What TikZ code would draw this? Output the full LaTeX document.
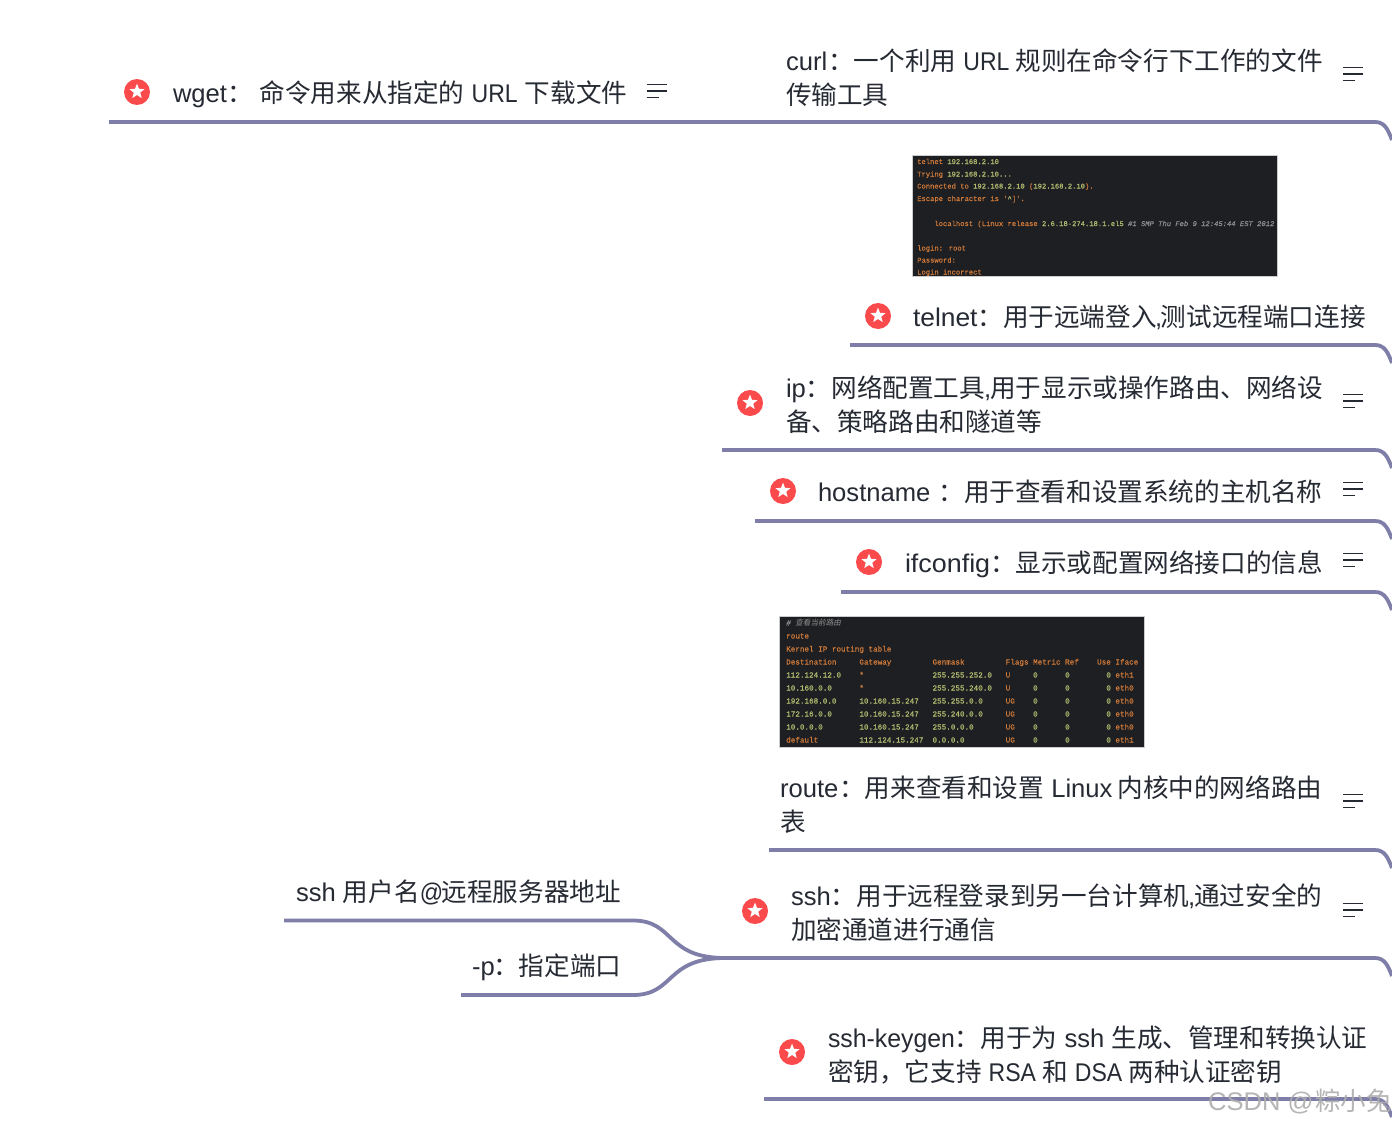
\documentclass[tikz,border=0pt]{standalone}
\usepackage{fontspec}
\setmainfont{Liberation Sans}
\newfontfamily\cjkfam{Noto Sans CJK SC}
\newfontfamily\cjkslant[FakeSlant=0.2]{Noto Sans CJK SC}
\newfontfamily\monofam[FakeBold=0.25]{Liberation Mono}
\newfontfamily\narfam[FakeStretch=0.9]{Liberation Sans}
\newfontfamily\midfam[FakeStretch=0.97]{Liberation Sans}
\newfontfamily\widefam[FakeStretch=1.05]{Liberation Sans}
\newfontfamily\wideofam[FakeStretch=1.03]{Liberation Sans}
\usetikzlibrary{shapes.geometric}
\definecolor{branch}{HTML}{7E7EA8}
\definecolor{inkc}{HTML}{262A33}
\definecolor{badge}{HTML}{FB4A4C}
\definecolor{termbg}{HTML}{1E1F22}
\definecolor{termor}{HTML}{D07A3A}
\definecolor{termgn}{HTML}{B2BB70}
\definecolor{termgy}{HTML}{8C8E8E}
\newcommand\zh[1]{{\cjkfam #1}}
\newcommand\nar[1]{{\narfam #1}}
\newcommand\Gn[1]{\textcolor{termgn}{#1}}
\newcommand\Gy[1]{\textcolor{termgy}{#1}}
\newcommand\Sk[1]{\hskip\dimexpr#1\fontcharwd\font`0\relax}
\tikzset{
  branchline/.style={draw=branch,line width=3.8pt,line cap=butt},
  maintext/.style={anchor=base west,inner sep=0pt,outer sep=0pt,text=inkc,align=left,font=\fontsize{25.6}{33.5}\selectfont},
  starbadge/.style={circle,fill=badge,minimum size=26pt,inner sep=0pt,
    path picture={\node[star,star points=5,star point ratio=2.35,fill=white,minimum size=16pt,inner sep=0pt] at ([yshift=0.4pt]path picture bounding box.center) {};}},
  termbox/.style={fill=termbg,draw=black!20,line width=0.8pt},
  telnetline/.style={anchor=base west,inner sep=0pt,text=termor,font=\monofam\fontsize{7.17}{9}\selectfont},
  routeline/.style={anchor=base west,inner sep=0pt,text=termor,font=\monofam\fontsize{7.62}{9}\selectfont},
  wmtext/.style={anchor=base west,inner sep=0pt,text=black!32,opacity=0.9,font=\fontsize{25.5}{30}\selectfont},
  pics/noteicon/.style={code={
    \draw[draw=inkc,line width=1.8pt] (-10,-6.5) -- (10,-6.5);
    \draw[draw=inkc,line width=1.8pt] (-10,0) -- (10,0);
    \draw[draw=inkc,line width=1.8pt] (-10,6.5) -- (2,6.5);
  }}
}
\begin{document}
\begin{tikzpicture}[x=1pt,y=-1pt]
\useasboundingbox (0,0) rectangle (1392,1124);
\fill[white] (0,0) rectangle (1392,1124);

% branch anchors
\coordinate (wgetL) at (109,122);
\coordinate (curlL) at (680,122);
\coordinate (curlF) at (1375,122);
\coordinate (curlE) at (1392,140);
\coordinate (telL) at (850,345);
\coordinate (telF) at (1375,345);
\coordinate (telE) at (1392,363);
\coordinate (ipL) at (722,450);
\coordinate (ipF) at (1375,450);
\coordinate (ipE) at (1392,468);
\coordinate (hostL) at (755,521);
\coordinate (hostF) at (1375,521);
\coordinate (hostE) at (1392,539);
\coordinate (ifL) at (841,592);
\coordinate (ifF) at (1375,592);
\coordinate (ifE) at (1392,610);
\coordinate (routeL) at (769,850);
\coordinate (routeF) at (1375,850);
\coordinate (routeE) at (1392,868);
\coordinate (sshL) at (725,958);
\coordinate (sshF) at (1375,958);
\coordinate (sshE) at (1392,976);
\coordinate (keyL) at (764,1099);
\coordinate (keyF) at (1375,1099);
\coordinate (keyE) at (1392,1117);
\coordinate (userL) at (284,920.5);
\coordinate (userF) at (633,920.5);
\coordinate (portL) at (461,995);
\coordinate (portF) at (633,995);

\newcommand\branch[3]{\draw[branchline] (#1) -- (#2) .. controls ++(10,0) and ++(-4,-10) .. (#3);}
\draw[branchline] (wgetL) -- (curlL);
\branch{curlL}{curlF}{curlE}
\branch{telL}{telF}{telE}
\branch{ipL}{ipF}{ipE}
\branch{hostL}{hostF}{hostE}
\branch{ifL}{ifF}{ifE}
\branch{routeL}{routeF}{routeE}
\branch{sshL}{sshF}{sshE}
\branch{keyL}{keyF}{keyE}
\draw[branchline] (userL) -- (userF) .. controls ++(42,0) and ++(-60,0) .. (sshL);
\draw[branchline] (portL) -- (portF) .. controls ++(42,0) and ++(-60,0) .. (sshL);

% terminal screenshots
\filldraw[termbox] (912.6,155) rectangle (1277.6,276);
\node[telnetline] (t1) at (917,164) {telnet \Gn{192.168.2.10}};
\node[telnetline] (t2) at (917,176.5) {Trying \Gn{192.168.2.10...}};
\node[telnetline] (t3) at (917,188.5) {Connected to \Gn{192.168.2.10} (\Gn{192.168.2.10}).};
\node[telnetline] (t4) at (917,201) {Escape character is '\Gn{\^{}}]'.};
\node[telnetline] (t5) at (917,226) {\Sk{4}localhost (Linux release \Gn{2.6.18-274.18.1.el5} \Gy{\itshape \#1 SMP Thu Feb 9 12:45:44 EST 2012}};
\node[telnetline] (t6) at (917,250.5) {login: root};
\node[telnetline] (t7) at (917,262.5) {Password:};
\node[telnetline] (t8) at (917,274.5) {Login incorrect};

\filldraw[termbox] (779.6,616) rectangle (1144.6,747);
\node[routeline] (r0) at (786,625.5) {\Gy{\itshape \# {\cjkslant 查看当前路由}}};
\node[routeline] (r1) at (786,638.5) {route};
\node[routeline] (r2) at (786,651.5) {Kernel IP routing table};
\node[routeline] (r3) at (786,664.5) {Destination\Sk{5}Gateway\Sk{9}Genmask\Sk{9}Flags Metric Ref\Sk{4}Use Iface};
\node[routeline] (r4) at (786,677.5) {\Gn{112.124.12.0}\Sk{4}*\Sk{15}\Gn{255.255.252.0}\Sk{3}U\Sk{5}\Gn{0}\Sk{6}\Gn{0}\Sk{8}\Gn{0} eth1};
\node[routeline] (r5) at (786,690.5) {\Gn{10.160.0.0}\Sk{6}*\Sk{15}\Gn{255.255.240.0}\Sk{3}U\Sk{5}\Gn{0}\Sk{6}\Gn{0}\Sk{8}\Gn{0} eth0};
\node[routeline] (r6) at (786,703.5) {\Gn{192.168.0.0}\Sk{5}\Gn{10.160.15.247}\Sk{3}\Gn{255.255.0.0}\Sk{5}UG\Sk{4}\Gn{0}\Sk{6}\Gn{0}\Sk{8}\Gn{0} eth0};
\node[routeline] (r7) at (786,716.5) {\Gn{172.16.0.0}\Sk{6}\Gn{10.160.15.247}\Sk{3}\Gn{255.240.0.0}\Sk{5}UG\Sk{4}\Gn{0}\Sk{6}\Gn{0}\Sk{8}\Gn{0} eth0};
\node[routeline] (r8) at (786,729.5) {\Gn{10.0.0.0}\Sk{8}\Gn{10.160.15.247}\Sk{3}\Gn{255.0.0.0}\Sk{7}UG\Sk{4}\Gn{0}\Sk{6}\Gn{0}\Sk{8}\Gn{0} eth0};
\node[routeline] (r9) at (786,742.5) {default\Sk{9}\Gn{112.124.15.247}\Sk{2}\Gn{0.0.0.0}\Sk{9}UG\Sk{4}\Gn{0}\Sk{6}\Gn{0}\Sk{8}\Gn{0} eth1};

% star badges
\node[starbadge] (s1) at (137,92) {};
\node[starbadge] (s2) at (878,316) {};
\node[starbadge] (s3) at (750,403) {};
\node[starbadge] (s4) at (783,491) {};
\node[starbadge] (s5) at (869,562) {};
\node[starbadge] (s6) at (755,911) {};
\node[starbadge] (s7) at (792,1052) {};

% note icons
\pic at (656.5,91) {noteicon};
\pic at (1353,74) {noteicon};
\pic at (1353,401) {noteicon};
\pic at (1353,489) {noteicon};
\pic at (1353,560) {noteicon};
\pic at (1353,801) {noteicon};
\pic at (1353,910) {noteicon};

% labels
\node[maintext] (wget) at (173,102) {wget\zh{：} \zh{命令用来从指定的} \nar{URL} \zh{下载文件}};
\node[maintext] (curl) at (786,104) {curl\kern1pt\zh{：一个利用} \nar{URL} \kern-1pt\zh{规则在命令行下工作的文件}\\\zh{传输工具}};
\node[maintext] (telnet) at (913,326) {{\wideofam telnet}\zh{：用于远端登入}\kern-1.5pt,\kern-1.5pt\zh{测试远程端口连接}};
\node[maintext] (ip) at (786,431) {ip\zh{：网络配置工具}\kern-1pt,\kern-1pt\zh{用于显示或操作路由、网络设}\\\zh{备、策略路由和隧道等}};
\node[maintext] (hostname) at (818,501) {hostname \kern1pt\zh{：用于查看和设置系统的主机名称}};
\node[maintext] (ifconfig) at (905,572) {{\widefam ifconfig}\zh{：显示或配置网络接口的信息}};
\node[maintext] (route) at (780,831) {route\kern1pt\zh{：用来查看和设置} Linux\kern-2pt\ \zh{内核中的网络路由}\\\zh{表}};
\node[maintext] (ssh) at (791,939) {ssh\zh{：用于远程登录到另一台计算机}\kern-1pt,\kern-1pt\zh{通过安全的}\\\zh{加密通道进行通信}};
\node[maintext] (user) at (296,901) {ssh \zh{用户名}\nar{@}\kern-1.5pt\zh{远程服务器地址}};
\node[maintext] (port) at (472,975) {-p\kern-1.5pt\zh{：指定端口}};
\node[maintext] (keygen) at (828,1081) {{\midfam ssh-keygen}\zh{：用于为} ssh \zh{生成、管理和转换认证}\\\zh{密钥，它支持} \nar{RSA} \kern-1pt\zh{和} \nar{DSA} \kern-1pt\zh{两种认证密钥}};

% watermark
\node[wmtext] (wm) at (1208,1110) {CSDN @\kern2pt\zh{粽小兔}};
\end{tikzpicture}
\end{document}
